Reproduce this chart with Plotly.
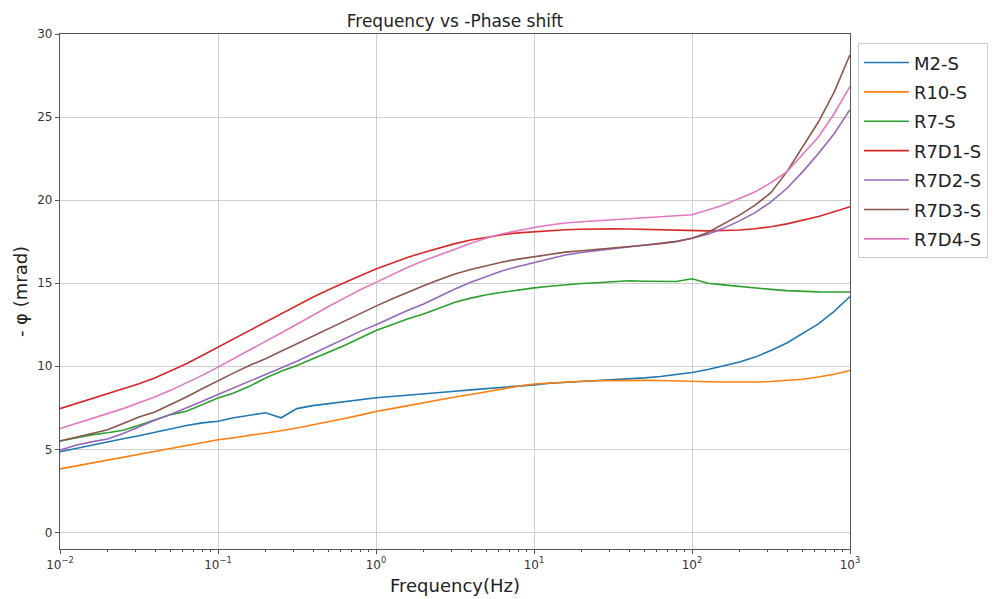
import plotly.graph_objects as go

freq = [0.01, 0.0126, 0.0158, 0.02, 0.0251, 0.0316, 0.0398, 0.0501, 0.0631, 0.0794,
        0.1, 0.126, 0.158, 0.2, 0.251, 0.316, 0.398, 0.501, 0.631, 0.794,
        1, 1.26, 1.58, 2, 2.51, 3.16, 3.98, 5.01, 6.31, 7.94,
        10, 12.6, 15.8, 20, 25.1, 31.6, 39.8, 50.1, 63.1, 79.4,
        100, 126, 158, 200, 251, 316, 398, 501, 631, 794, 1000]

m2_s = [4.85, 5.06, 5.26, 5.44, 5.64, 5.82, 6.03, 6.23, 6.43, 6.59,
        6.69, 6.9, 7.04, 7.2, 6.9, 7.45, 7.63, 7.75, 7.9, 8.0,
        8.1, 8.18, 8.27, 8.35, 8.42, 8.5, 8.58, 8.65, 8.72, 8.8,
        8.88, 8.98, 9.03, 9.07, 9.12, 9.17, 9.22, 9.3, 9.38, 9.48,
        9.62, 9.8, 10.0, 10.25, 10.55, 10.95, 11.4, 11.95, 12.55, 13.3, 14.2]

r10_s = [3.82, 4.0, 4.17, 4.35, 4.52, 4.7, 4.88, 5.05, 5.23, 5.4,
         5.58, 5.7, 5.83, 5.97, 6.12, 6.28, 6.46, 6.65, 6.85, 7.06,
         7.28, 7.45, 7.62, 7.8, 8.0, 8.15, 8.3, 8.47, 8.62, 8.8,
         8.93, 9.0, 9.05, 9.1, 9.13, 9.15, 9.16, 9.15, 9.14, 9.13,
         9.1, 9.07, 9.05, 9.04, 9.05, 9.08, 9.13, 9.22, 9.35, 9.52, 9.75]

r7_s = [5.5, 5.7, 5.87, 6.0, 6.15, 6.45, 6.79, 7.09, 7.29, 7.69,
        8.09, 8.39, 8.79, 9.29, 9.7, 10.05, 10.45, 10.85, 11.25, 11.7,
        12.15, 12.5, 12.85, 13.15, 13.5, 13.85, 14.1, 14.3, 14.45, 14.6,
        14.72, 14.82, 14.92, 14.98, 15.03, 15.1, 15.15, 15.12, 15.1, 15.1,
        15.27, 15.0, 14.9, 14.8, 14.7, 14.63, 14.55, 14.5, 14.48, 14.47, 14.47]

r7d1_s = [7.45, 7.75, 8.05, 8.35, 8.65, 8.95, 9.3, 9.7, 10.15, 10.65,
          11.15, 11.65, 12.15, 12.65, 13.15, 13.65, 14.15, 14.6, 15.05, 15.45,
          15.85, 16.2, 16.55, 16.85, 17.12, 17.38, 17.6, 17.78, 17.92, 18.03,
          18.1, 18.17, 18.22, 18.25, 18.27, 18.27, 18.26, 18.24, 18.22, 18.19,
          18.15, 18.15, 18.17, 18.2, 18.28, 18.4, 18.57, 18.78, 19.02, 19.3, 19.6]

r7d2_s = [4.95, 5.25, 5.45, 5.62, 5.95, 6.35, 6.75, 7.1, 7.48, 7.9,
          8.3, 8.7, 9.1, 9.5, 9.9, 10.3, 10.75, 11.2, 11.65, 12.1,
          12.5, 12.95, 13.35, 13.75, 14.2, 14.65, 15.05, 15.4, 15.75, 16.0,
          16.25, 16.5, 16.7, 16.85, 16.98, 17.08, 17.18, 17.28, 17.38, 17.52,
          17.7, 17.95, 18.3, 18.75, 19.25, 19.9, 20.7, 21.7, 22.8, 24.0, 25.45]

r7d3_s = [5.5, 5.72, 5.95, 6.18, 6.55, 6.95, 7.25, 7.7, 8.15, 8.65,
          9.15, 9.6, 10.05, 10.45, 10.9, 11.35, 11.8, 12.25, 12.75, 13.2,
          13.62, 14.05, 14.45, 14.85, 15.2, 15.55, 15.82, 16.05, 16.28, 16.45,
          16.6, 16.75, 16.87, 16.95, 17.03, 17.1, 17.18, 17.27, 17.37, 17.5,
          17.7, 18.05, 18.55, 19.1, 19.7, 20.45, 21.7, 23.2, 24.7, 26.5, 28.75]

r7d4_s = [6.25, 6.55, 6.85, 7.15, 7.45, 7.8, 8.15, 8.55, 9.0, 9.45,
          9.95, 10.45, 10.95, 11.5, 12.0, 12.55, 13.05, 13.6, 14.1, 14.6,
          15.05, 15.5, 15.95, 16.35, 16.72, 17.05, 17.4, 17.72, 17.98, 18.18,
          18.35, 18.5, 18.62, 18.7, 18.76, 18.82, 18.87, 18.92, 18.98, 19.05,
          19.12, 19.4, 19.7, 20.1, 20.5, 21.05, 21.7, 22.75, 23.8, 25.2, 26.85]

series_names = ["M2-S", "R10-S", "R7-S", "R7D1-S", "R7D2-S", "R7D3-S", "R7D4-S"]
series_values = [m2_s, r10_s, r7_s, r7d1_s, r7d2_s, r7d3_s, r7d4_s]
colors = ["#1f77b4", "#ff7f0e", "#2ca02c", "#d62728", "#9467bd", "#8c564b", "#e377c2"]

x_tickvals = [0.01, 0.1, 1, 10, 100, 1000]
x_ticktext = ["10<sup>\u22122</sup>", "10<sup>\u22121</sup>", "10<sup>0</sup>",
              "10<sup>1</sup>", "10<sup>2</sup>", "10<sup>3</sup>"]
y_tickvals = [0, 5, 10, 15, 20, 25, 30]

fig = go.Figure()
for name, vals, col in zip(series_names, series_values, colors):
    fig.add_trace(go.Scatter(x=freq, y=vals, mode="lines", name=name,
                             legendgroup=name,
                             line=dict(color=col, width=1.6)))

font_family = "DejaVu Sans, Arial, sans-serif"
fig.update_layout(
    width=997, height=599,
    margin=dict(l=60, r=147, t=34, b=50, autoexpand=False),
    paper_bgcolor="white", plot_bgcolor="white",
    font=dict(family=font_family, color="#222"),
    title=dict(text="Frequency vs -Phase shift", x=(60 + 395) / 997, xanchor="center",
               y=1 - 21 / 599, yanchor="middle", font=dict(size=17, color="#222")),
    showlegend=True,
    legend=dict(x=1.01, y=0.982, xanchor="left", yanchor="top",
                bordercolor="#cccccc", borderwidth=1, bgcolor="white",
                font=dict(size=18, color="#222"), tracegroupgap=3,
                itemwidth=45),
)
fig.update_xaxes(
    type="log", range=[-2, 3], automargin=False,
    tickvals=x_tickvals, ticktext=x_ticktext,
    tickfont=dict(size=12, color="#333"),
    showgrid=True, gridcolor="#cfcfcf", gridwidth=1,
    showline=True, linecolor="#555", linewidth=1.2, mirror=True,
    ticks="outside", ticklen=4, tickcolor="#555",
    minor=dict(ticks="outside", ticklen=2, tickcolor="#555", showgrid=False,
               tickvals=[v * m for v in [0.01, 0.1, 1, 10, 100] for m in range(2, 10)]),
    zeroline=False,
    title=dict(text="Frequency(Hz)", font=dict(size=18, color="#222"), standoff=8),
)
fig.update_yaxes(
    range=[-1, 30], automargin=False,
    tickvals=y_tickvals,
    tickfont=dict(size=12, color="#333"),
    showgrid=True, gridcolor="#cfcfcf", gridwidth=1,
    showline=True, linecolor="#555", linewidth=1.2, mirror=True,
    ticks="outside", ticklen=4, tickcolor="#555",
    zeroline=False,
    title=dict(text="- \u03c6 (mrad)", font=dict(size=18, color="#222"), standoff=4),
)

fig.write_html("out.html")
